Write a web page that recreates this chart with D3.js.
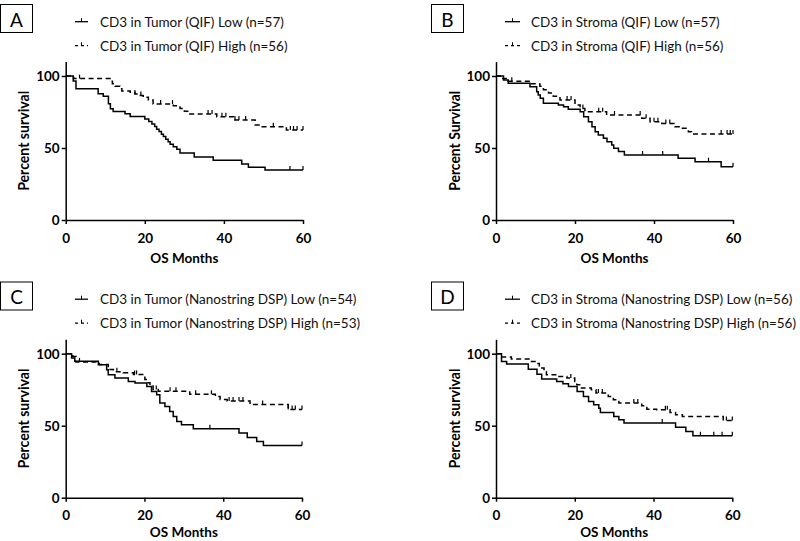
<!DOCTYPE html>
<html><head><meta charset="utf-8">
<script src="https://cdn.jsdelivr.net/npm/d3@7"></script>
<style>body{margin:0;background:#fff}svg{display:block}</style>
</head><body>
<svg id="c" width="800" height="541"></svg>
<script>
// ---------- DATA ----------
const panelLetters = ["A", "B", "C", "D"];
const legendLow = ["CD3 in Tumor (QIF) Low (n=57)", "CD3 in Stroma (QIF) Low (n=57)",
  "CD3 in Tumor (Nanostring DSP) Low (n=54)", "CD3 in Stroma (Nanostring DSP) Low (n=56)"];
const legendHigh = ["CD3 in Tumor (QIF) High (n=56)", "CD3 in Stroma (QIF) High (n=56)",
  "CD3 in Tumor (Nanostring DSP) High (n=53)", "CD3 in Stroma (Nanostring DSP) High (n=56)"];
const yTitles = ["Percent survival", "Percent Survival", "Percent survival", "Percent survival"];
const xTitle = "OS Months";
const xTicks = [0, 20, 40, 60];
const yTicks = [0, 50, 100];

// Panel A
const aLowT = [0, 1.9, 2.6, 8.2, 9.5, 10.8, 11.3, 12, 15, 16.3, 20, 21, 21.8, 22.5, 23, 23.6, 24.2, 24.7, 25.3, 25.9, 26.4, 27.2, 28.1, 28.9, 32.5, 37.3, 44.5, 46.2, 50.4];
const aLowS = [100, 96.5, 91.2, 87.7, 86, 80.7, 77.2, 75.4, 73.7, 71.9, 70.2, 68.4, 66.6, 64.9, 63.1, 61.4, 59.6, 57.9, 56.1, 54.4, 52.6, 50.9, 49.1, 46.5, 43.8, 41.5, 38.9, 36.6, 34.7];
const aLowC = [56.7, 60];
const aHighT = [0, 2, 11.2, 11.8, 12.5, 13.7, 14.2, 16.3, 17.5, 18.4, 19.6, 20.9, 22.1, 27.2, 28.9, 30, 31.4, 38.2, 42.4, 47.9, 49.1, 55.8];
const aHighS = [100, 98.2, 96.4, 94.6, 92.9, 91.1, 89.6, 88.8, 87.5, 86.4, 85.2, 83.3, 80.5, 79.4, 77.5, 75.5, 73.6, 71.7, 69.4, 66, 64.8, 62.5];
const aHighC = [3.5, 17.5, 19, 24, 27, 36, 37, 39.5, 40.5, 42.8, 43.8, 45.5, 52.5, 56.8, 57.6, 58.5, 60];

// Panel B
const bLowT = [0, 1.9, 3.1, 8.6, 10.3, 10.7, 11.2, 12, 15.8, 17.1, 18.3, 21.3, 22.2, 23.4, 24.3, 25.1, 25.9, 27.2, 28.1, 29.3, 29.8, 31, 32.5, 46.1, 50.4, 57];
const bLowS = [100, 97.2, 94.9, 92.6, 89, 86.8, 84.5, 81, 79.9, 78.7, 76.9, 75.2, 71.7, 68.3, 64.8, 61.3, 59, 56.7, 54.4, 52.1, 49.8, 47.5, 45.1, 42.8, 40.5, 37];
const bLowC = [37.1, 42.2, 53.8, 60];
const bHighT = [0, 1.7, 3, 8.4, 11.1, 12, 13.3, 14.5, 16.2, 20, 21.3, 22.5, 28, 36.9, 39, 42, 45.3, 46.6, 48.7, 49.5];
const bHighS = [100, 98.2, 96.4, 94.6, 92.8, 90.5, 88.2, 85.9, 83.3, 79.9, 77.5, 75.2, 72.9, 70.6, 68.3, 67.1, 64.8, 63.7, 61.3, 59.7];
const bHighC = [4, 18, 19, 22, 26, 27, 30, 36.5, 38, 40, 41, 43, 44, 57, 58.5, 59.3, 60];

// Panel C
const cLowT = [0, 1.5, 2.3, 8.3, 10.4, 10.8, 12.5, 15.9, 17.6, 20.6, 21.8, 23.1, 23.9, 25.2, 26.4, 27.3, 28.2, 29.4, 32.4, 44, 46.1, 48.5, 50.2];
const cLowS = [100, 97, 94.7, 92.3, 88.9, 85.4, 83.1, 80.7, 79.6, 77.2, 73.8, 71.5, 65.7, 63.3, 59.8, 56.4, 52.9, 50.6, 47.8, 44.9, 41.8, 39, 36.2];
const cLowC = [36.6, 60];
const cHighT = [0, 1.8, 2.6, 8.5, 10.8, 12.1, 14.6, 17.2, 20.1, 20.9, 21.4, 22.2, 23.5, 31.5, 38, 39.2, 41, 46.8, 56.5];
const cHighS = [100, 98.1, 94.3, 92.5, 89, 87.5, 86.8, 85.6, 82.1, 79.8, 77.5, 75.2, 74, 71.8, 70.2, 68.2, 67.1, 64.7, 61.2];
const cHighC = [3.5, 13, 17.5, 18, 23, 26.5, 28, 33, 37, 41.5, 42.5, 44, 45, 50, 56.5, 57.5, 58.3, 60];

// Panel D
const dLowT = [0, 1.4, 2.7, 8.2, 10.4, 11.6, 15.4, 17, 18.4, 20.6, 22.2, 23.5, 24.8, 26.1, 26.5, 29.9, 31.2, 32.5, 45.6, 48.2, 50];
const dLowS = [100, 94.6, 92.8, 89.2, 85.7, 82.4, 80.7, 79.1, 77.2, 73.8, 70.3, 66.8, 64.5, 62.2, 59.2, 56.4, 54.1, 51.8, 49, 45.9, 43.1];
const dLowC = [42.2, 51.9, 55.3, 57.4, 60];
const dHighT = [0, 1.1, 3.9, 8.6, 10.4, 11, 12.2, 12.8, 15.4, 18, 20, 20.5, 21.7, 24.2, 25.4, 28.5, 29.8, 31.2, 37, 38.3, 40.8, 44.2, 45.6, 47.3, 57.7];
const dHighS = [100, 97.7, 96.3, 94.6, 93.2, 90, 87.7, 85.4, 84.2, 83.1, 80.7, 78.4, 76.1, 74.9, 72.7, 70.3, 68, 65.7, 63.8, 61.5, 61, 59.2, 57.6, 56.4, 53.6];
const dHighC = [19, 26, 27, 35, 36, 43, 43.5, 58.5, 60];

const lowT = [aLowT, bLowT, cLowT, dLowT], lowS = [aLowS, bLowS, cLowS, dLowS], lowC = [aLowC, bLowC, cLowC, dLowC];
const highT = [aHighT, bHighT, cHighT, dHighT], highS = [aHighS, bHighS, cHighS, dHighS], highC = [aHighC, bHighC, cHighC, dHighC];

// ---------- LAYOUT ----------
const layout = [
  {x0: 65.7, x1: 303, yb: 220, ot: 0, ox: 0},
  {x0: 496, x1: 733, yb: 220, ot: 0, ox: 431},
  {x0: 65.7, x1: 302, yb: 497.7, ot: 277.5, ox: 0},
  {x0: 496, x1: 732.3, yb: 497.7, ot: 277.5, ox: 431}
];
const FONT = "Lato, 'Open Sans', sans-serif";
const svg = d3.select("#c");

panelLetters.forEach((L, i) => {
  const Lp = layout[i];
  const g = svg.append("g");
  const x = d3.scaleLinear().domain([0, 60]).range([Lp.x0, Lp.x1]);
  const yPx100 = 144;
  const y = d3.scaleLinear().domain([0, 110]).range([Lp.yb, Lp.yb - yPx100 * 1.1]);

  // letter box
  g.append("rect").attr("x", Lp.ox + 0.5).attr("y", Lp.ot + 4.5).attr("width", 32).attr("height", 28)
    .attr("fill", "none").attr("stroke", "#000").attr("stroke-width", 1);
  g.append("text").attr("x", Lp.ox + 16.5).attr("y", Lp.ot + 19).attr("text-anchor", "middle")
    .attr("dominant-baseline", "central").attr("font-family", FONT).attr("font-size", 19).text(L);

  // legend
  const lx = Lp.ox === 0 ? 75 : 505, lw = Lp.ox === 0 ? 13 : 15, tx = Lp.ox === 0 ? 100 : 531;
  const rows = [{t: legendLow[i], dash: null, yy: Lp.ot + 21.7}, {t: legendHigh[i], dash: "3,3", yy: Lp.ot + 45.7}];
  rows.forEach(r => {
    g.append("line").attr("x1", lx).attr("x2", lx + lw).attr("y1", r.yy).attr("y2", r.yy)
      .attr("stroke", "#000").attr("stroke-width", 1.3).attr("stroke-dasharray", r.dash);
    g.append("line").attr("x1", lx + lw / 2).attr("x2", lx + lw / 2).attr("y1", r.yy).attr("y2", r.yy - 3.5)
      .attr("stroke", "#000").attr("stroke-width", 1);
    g.append("text").attr("x", tx).attr("y", r.yy).attr("dominant-baseline", "central")
      .attr("font-family", FONT).attr("font-size", 13.5).attr("fill", "#111").text(r.t);
  });

  // axes
  const xa = g.append("g").attr("transform", `translate(0,${Lp.yb})`)
    .call(d3.axisBottom(x).tickValues(xTicks).tickSize(4).tickSizeOuter(0));
  const ya = g.append("g").attr("transform", `translate(${Lp.x0},0)`)
    .call(d3.axisLeft(y).tickValues(yTicks).tickSize(4).tickSizeOuter(0));
  [xa, ya].forEach(a => {
    a.selectAll("path, line").attr("stroke", "#000").attr("stroke-width", 1.5);
    a.selectAll("text").attr("font-family", FONT).attr("font-size", 13.5).attr("font-weight", "bold").attr("fill", "#000");
  });
  xa.selectAll("text").attr("dy", null).attr("y", 17.5).attr("dominant-baseline", "central");
  ya.selectAll("text").attr("x", -6);

  g.append("text").attr("x", (Lp.x0 + Lp.x1) / 2).attr("y", Math.min(Lp.yb + 37.5, 532)).attr("text-anchor", "middle")
    .attr("dominant-baseline", "central").attr("font-family", FONT).attr("font-size", 13.5).attr("font-weight", "bold").text(xTitle);
  const ymid = (y(0) + y(110)) / 2;
  g.append("text").attr("transform", `translate(${Lp.x0 - 43},${ymid}) rotate(-90)`).attr("text-anchor", "middle")
    .attr("dominant-baseline", "central").attr("font-family", FONT).attr("font-size", 16).attr("font-weight", "bold")
    .attr("textLength", 100).attr("lengthAdjust", "spacingAndGlyphs").text(yTitles[i]);

  // curves
  const line = d3.line().x(d => x(d[0])).y(d => y(d[1])).curve(d3.curveStepAfter);
  const series = [
    {T: lowT[i], S: lowS[i], C: lowC[i], dash: null},
    {T: highT[i], S: highS[i], C: highC[i], dash: "5,3.5"}
  ];
  series.forEach(s => {
    const pts = s.T.map((t, k) => [t, s.S[k]]);
    pts.push([60, s.S[s.S.length - 1]]);
    g.append("path").attr("d", line(pts)).attr("fill", "none").attr("stroke", "#000")
      .attr("stroke-width", 1.5).attr("stroke-dasharray", s.dash);
    const surv = t => { let v = s.S[0]; s.T.forEach((tt, k) => { if (tt <= t) v = s.S[k]; }); return v; };
    g.selectAll(null).data(s.C).enter().append("line")
      .attr("x1", d => x(d)).attr("x2", d => x(d))
      .attr("y1", d => y(surv(d))).attr("y2", d => y(surv(d)) - 4)
      .attr("stroke", "#000").attr("stroke-width", 1.2);
  });
});
</script>
</body></html>
